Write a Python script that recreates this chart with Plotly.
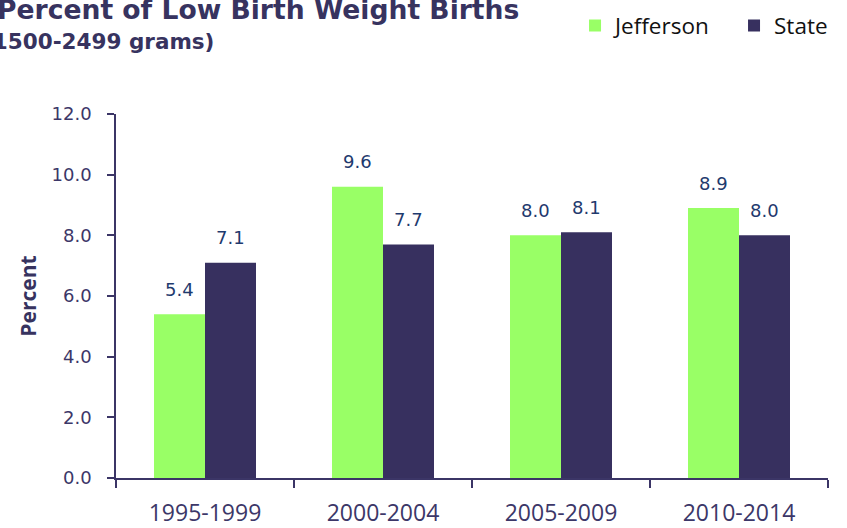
import plotly.graph_objects as go

periods = ["1995-1999", "2000-2004", "2005-2009", "2010-2014"]
jefferson = [5.4, 9.6, 8.0, 8.9]
state = [7.1, 7.7, 8.1, 8.0]
series_names = ["Jefferson", "State"]
title_line1 = "Percent of Low Birth Weight Births"
title_line2 = "(1500-2499 grams)"
y_title = "Percent"

GREEN = "#99FF66"
NAVY = "#37305F"
AXIS = "#3B3566"
LABEL = "#1F3A6E"

fig = go.Figure()
fig.add_trace(go.Bar(x=periods, y=jefferson, name=series_names[0],
                     marker=dict(color=GREEN, line=dict(width=0))))
fig.add_trace(go.Bar(x=periods, y=state, name=series_names[1],
                     marker=dict(color=NAVY, line=dict(width=0))))

annotations = []
for vals, shift in ((jefferson, -25.5), (state, 25.5)):
    for p, v in zip(periods, vals):
        annotations.append(dict(x=p, y=v, xref="x", yref="y", text=f"{v:.1f}",
                                showarrow=False, xshift=shift, yshift=25,
                                yanchor="middle", xanchor="center",
                                font=dict(family="DejaVu Sans", size=18, color=LABEL)))

annotations.append(dict(xref="paper", yref="paper", x=0.5688, y=1.286,
                        xanchor="right", yanchor="middle", showarrow=False,
                        text=f"<b>{title_line1}</b>",
                        font=dict(family="DejaVu Sans", size=26.6, color="#37335F")))
annotations.append(dict(xref="paper", yref="paper", x=0.141, y=1.198,
                        xanchor="right", yanchor="middle", showarrow=False,
                        text=f"<b>{title_line2}</b>",
                        font=dict(family="DejaVu Sans", size=21.5, color="#37335F")))

fig.update_layout(
    width=847, height=528,
    margin=dict(l=116, r=19, t=114, b=50, autoexpand=False),
    paper_bgcolor="white", plot_bgcolor="white",
    barmode="group", bargap=0.427, bargroupgap=0,
    showlegend=True,
    legend=dict(orientation="h", xref="container", yref="container",
                x=0.6789, xanchor="left", y=0.9508, yanchor="middle",
                font=dict(family="Open Sans", size=22.5, color="#111111"),
                entrywidth=114, entrywidthmode="pixels",
                bgcolor="rgba(0,0,0,0)", borderwidth=0),
    annotations=annotations,
)

fig.update_yaxes(range=[0, 12], dtick=2, tickformat=".1f", automargin=False,
                 showgrid=False, zeroline=False,
                 showline=True, linecolor=AXIS, linewidth=1.5,
                 ticks="outside", ticklen=7, tickwidth=1.5, tickcolor=AXIS,
                 ticklabelstandoff=12,
                 tickfont=dict(family="DejaVu Sans", size=18, color="#3C3768"),
                 title=dict(text=f"<b>{y_title}</b>", standoff=9,
                            font=dict(family="Open Sans", size=21, color="#37335F")))
fig.update_xaxes(showgrid=False, zeroline=False, automargin=False,
                 showline=True, linecolor=AXIS, linewidth=1.5,
                 ticks="outside", tickson="boundaries", ticklen=8, tickwidth=1.5, tickcolor=AXIS,
                 ticklabelstandoff=14,
                 tickfont=dict(family="Open Sans", size=23, color="#3C3768"))

fig.write_html("out.html", config={"displayModeBar": False},
               post_script="document.body.style.margin='0';document.body.style.padding='0';")
